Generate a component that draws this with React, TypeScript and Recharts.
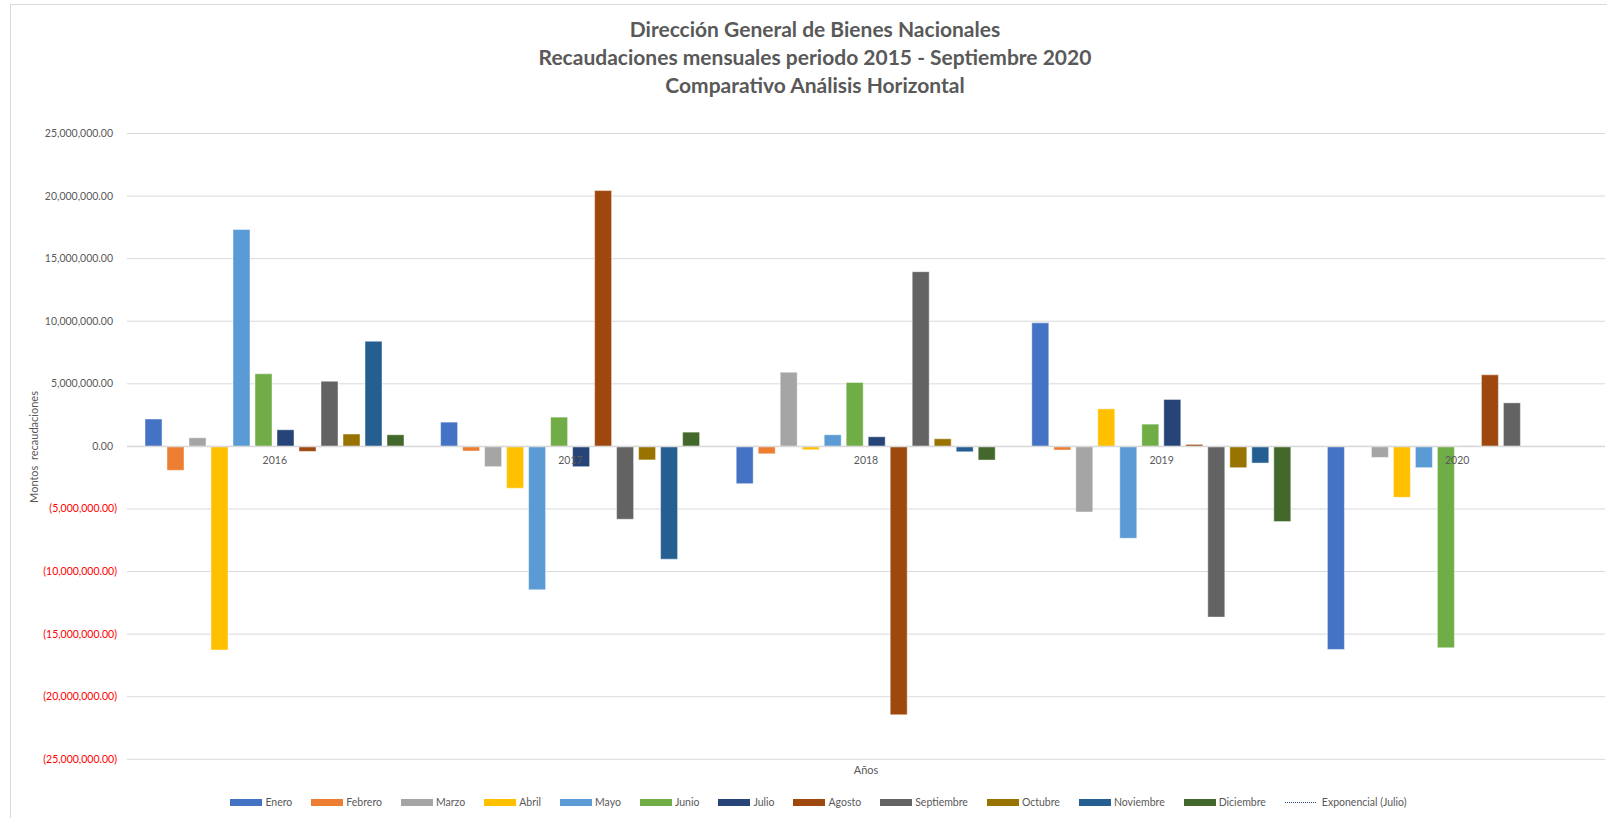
import { Bar, BarChart, CartesianGrid, Legend, ReferenceLine, XAxis, YAxis } from 'recharts';

const YEARS = ['2016', '2017', '2018', '2019', '2020'];

const MONTHS = [
  'Enero', 'Febrero', 'Marzo', 'Abril', 'Mayo', 'Junio',
  'Julio', 'Agosto', 'Septiembre', 'Octubre', 'Noviembre', 'Diciembre',
];

const ENERO = [2190000, 1940000, -2980000, 9870000, -16220000];
const FEBRERO = [-1910000, -370000, -590000, -290000, 40000];
const MARZO = [690000, -1620000, 5930000, -5240000, -880000];
const ABRIL = [-16270000, -3340000, -270000, 3000000, -4070000];
const MAYO = [17330000, -11460000, 930000, -7340000, -1700000];
const JUNIO = [5800000, 2340000, 5110000, 1780000, -16090000];
const JULIO = [1330000, -1620000, 770000, 3750000, 40000];
const AGOSTO = [-400000, 20440000, -21440000, 160000, 5720000];
const SEPTIEMBRE = [5210000, -5820000, 13960000, -13640000, 3480000];
const OCTUBRE = [990000, -1080000, 610000, -1700000, null];
const NOVIEMBRE = [8400000, -9010000, -430000, -1330000, null];
const DICIEMBRE = [930000, 1140000, -1090000, -6010000, null];

const SERIES = [ENERO, FEBRERO, MARZO, ABRIL, MAYO, JUNIO, JULIO, AGOSTO, SEPTIEMBRE, OCTUBRE, NOVIEMBRE, DICIEMBRE];

const Y_TICKS = [
  25000000, 20000000, 15000000, 10000000, 5000000, 0,
  -5000000, -10000000, -15000000, -20000000, -25000000,
];

const COLORS = [
  '#4472C4', '#ED7D31', '#A5A5A5', '#FFC000', '#5B9BD5', '#70AD47',
  '#264478', '#9E480E', '#636363', '#997300', '#255E91', '#43682B',
];

const data = YEARS.map((year, i) => {
  const row: Record<string, string | number | null> = { year };
  MONTHS.forEach((m, j) => {
    row[m] = SERIES[j][i];
  });
  return row;
});

const FONT = 'Lato, "Open Sans", sans-serif';
const GRAY = '#595959';

const MARGIN = { top: 133.5, right: 2, bottom: 38.7, left: 0 };
const CHART_H = 818;
const X_AXIS_H = 20;
const PLOT_H = CHART_H - MARGIN.top - MARGIN.bottom - X_AXIS_H;

const fmt = (v: number) =>
  Math.abs(v).toLocaleString('en-US', { minimumFractionDigits: 2, maximumFractionDigits: 2 });

function YTick({ y, payload }: any) {
  const v = payload.value as number;
  const neg = v < 0;
  return (
    <text
      x={neg ? 117 : 113}
      y={y}
      dy={3.5}
      textAnchor="end"
      fontSize={10.5}
      fontFamily={FONT}
      fill={neg ? '#FF0000' : GRAY}
    >
      {neg ? `(${fmt(v)})` : fmt(v)}
    </text>
  );
}

// category labels sit just under the zero line, as in the original
function XTick({ x, payload }: any) {
  const zeroY = MARGIN.top + PLOT_H / 2;
  return (
    <text x={x} y={zeroY + 18} textAnchor="middle" fontSize={10.5} fontFamily={FONT} fill={GRAY}>
      {payload.value}
    </text>
  );
}

function LegendContent({ payload }: any) {
  const items = [...(payload || [])].sort(
    (a: any, b: any) => MONTHS.indexOf(a.value) - MONTHS.indexOf(b.value),
  );
  return (
    <div
      style={{
        display: 'flex',
        justifyContent: 'center',
        alignItems: 'center',
        fontFamily: FONT,
        fontSize: 10.5,
        color: GRAY,
        paddingLeft: 30,
      }}
    >
      {items.map((p: any) => (
        <span key={p.value} style={{ display: 'flex', alignItems: 'center', marginRight: 19 }}>
          <span style={{ display: 'inline-block', width: 32, height: 7, background: p.color, marginRight: 3 }} />
          <span>{p.value}</span>
        </span>
      ))}
      <span style={{ display: 'flex', alignItems: 'center' }}>
        <span
          style={{
            display: 'inline-block',
            width: 31,
            height: 0,
            borderTop: '1.5px dotted #264478',
            marginRight: 6,
          }}
        />
        <span>Exponencial (Julio)</span>
      </span>
    </div>
  );
}

export default function App() {
  return (
    <div
      style={{
        position: 'absolute',
        left: 0,
        top: 0,
        width: 1607,
        height: 818,
        background: '#fff',
        overflow: 'hidden',
        fontFamily: FONT,
      }}
    >
      <div
        style={{
          position: 'absolute',
          left: 10,
          top: 4,
          width: 1620,
          height: 830,
          borderLeft: '1px solid #d9d9d9',
          borderTop: '1px solid #d9d9d9',
        }}
      />
      <div
        style={{
          position: 'absolute',
          left: 0,
          top: 15,
          width: 1630,
          textAlign: 'center',
          fontWeight: 700,
          fontSize: 21,
          lineHeight: '28px',
          color: GRAY,
        }}
      >
        <div>Dirección General de Bienes Nacionales</div>
        <div>Recaudaciones mensuales periodo 2015 - Septiembre 2020</div>
        <div>Comparativo Análisis Horizontal</div>
      </div>
      <div
        style={{
          position: 'absolute',
          left: 33,
          top: 447,
          transform: 'translate(-50%, -50%) rotate(-90deg)',
          whiteSpace: 'pre',
          fontSize: 11,
          color: GRAY,
        }}
      >
        {'Montos  recaudaciones'}
      </div>
      <div
        style={{
          position: 'absolute',
          left: 866,
          top: 769,
          transform: 'translate(-50%, -50%)',
          fontSize: 11,
          color: GRAY,
        }}
      >
        Años
      </div>
      <div style={{ position: 'absolute', left: 0, top: 0 }}>
        <BarChart width={1607} height={CHART_H} data={data} margin={MARGIN} barSize={17} barGap={5}>
          <CartesianGrid vertical={false} stroke="#d9d9d9" />
          <XAxis
            dataKey="year"
            height={X_AXIS_H}
            axisLine={false}
            tickLine={false}
            tick={<XTick />}
            interval={0}
          />
          <YAxis
            width={127}
            domain={[-25000000, 25000000]}
            ticks={Y_TICKS}
            axisLine={false}
            tickLine={false}
            tick={<YTick />}
            interval={0}
          />
          <ReferenceLine y={0} stroke="#d9d9d9" strokeWidth={1.5} />
          <Legend
            layout="horizontal"
            verticalAlign="middle"
            itemSorter={null}
            wrapperStyle={{ top: 796, left: 0, width: 1607 }}
            content={<LegendContent />}
          />
          {MONTHS.map((m, j) => (
            <Bar
              key={m}
              dataKey={m}
              fill={COLORS[j]}
              stroke="rgba(255,255,255,0.45)"
              strokeWidth={1}
              isAnimationActive={false}
            />
          ))}
        </BarChart>
      </div>
    </div>
  );
}
